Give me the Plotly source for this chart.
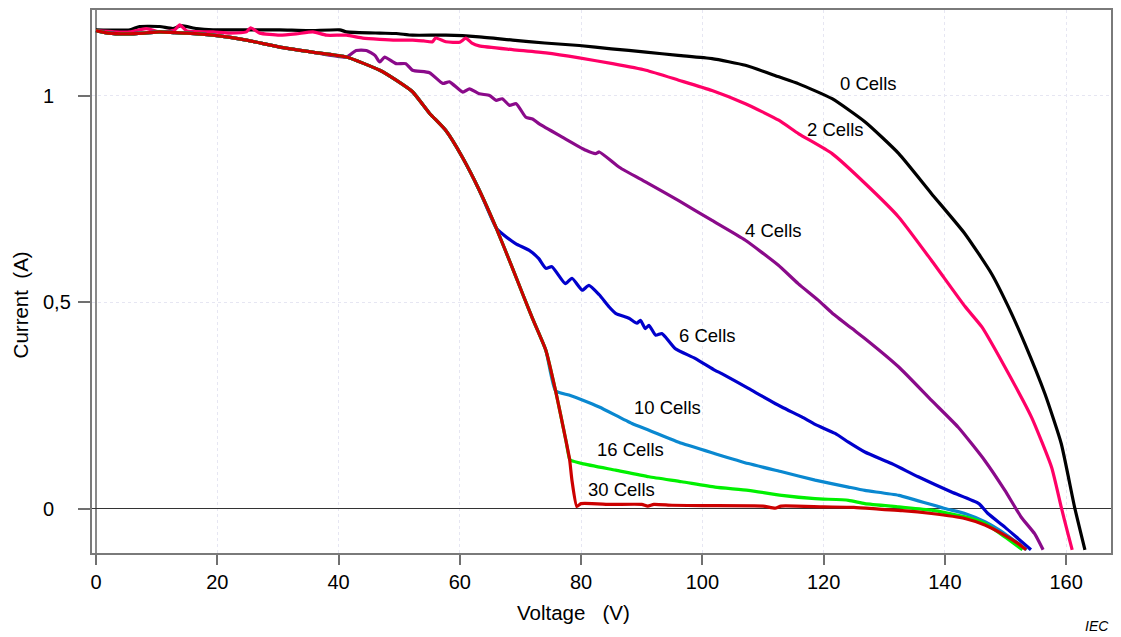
import plotly.graph_objects as go

# ---------------- data (Voltage V, Current A) ----------------
black_v = [0, 5.6, 7.2, 10.5, 12.7, 14.0, 16.6, 19.3, 25.0, 30.3, 35.0, 40.2, 41.3, 46.8, 49.5, 52.2,
           57.7, 63.2, 68.7, 74.0, 79.7, 85.0, 90.7, 96.0, 101.6, 107.1, 112.6, 115.9, 121.4,
           126.9, 132.4, 137.8, 143.3, 147.7, 150.5, 153.2, 156.5, 159.2, 161.4, 163.1]
black_i = [1.160, 1.160, 1.168, 1.168, 1.163, 1.170, 1.163, 1.160, 1.160, 1.160, 1.158, 1.160, 1.155,
           1.152, 1.151, 1.147, 1.147, 1.143, 1.135, 1.128, 1.122, 1.114, 1.106, 1.098, 1.090, 1.074,
           1.046, 1.029, 0.993, 0.936, 0.860, 0.763, 0.666, 0.569, 0.488, 0.399, 0.278, 0.157, 0.003, -0.100]

pink_v = [0, 3.0, 5.6, 8.3, 10.5, 13.0, 13.8, 15.0, 19.3, 22.0, 24.8, 25.5, 27.0, 30.3, 33.0, 35.8,
          38.0, 41.3, 44.0, 46.8, 49.5, 52.2, 54.0, 55.5, 56.0, 57.7, 60.0, 61.0, 62.0, 63.2, 68.7,
          74.2, 79.7, 85.2, 90.7, 96.1, 101.6, 107.1, 112.6, 115.9, 121.4, 126.9, 132.4, 137.8,
          143.3, 146.1, 149.9, 154.3, 157.6, 159.2, 160.3, 161.0]
pink_i = [1.158, 1.155, 1.155, 1.163, 1.155, 1.160, 1.172, 1.157, 1.155, 1.152, 1.155, 1.165, 1.152,
          1.147, 1.150, 1.155, 1.147, 1.147, 1.140, 1.137, 1.135, 1.135, 1.133, 1.131, 1.140, 1.131,
          1.130, 1.140, 1.128, 1.121, 1.112, 1.104, 1.092, 1.078, 1.062, 1.038, 1.013, 0.981, 0.941,
          0.908, 0.860, 0.787, 0.706, 0.601, 0.490, 0.440, 0.343, 0.221, 0.100, 0.003, -0.061, -0.100]

# shared part of the partially shaded curves
base_v = [0, 2.0, 5.0, 8.0, 10.5, 13.0, 15.0, 19.3, 24.8, 30.3, 35.7, 41.3]
base_i = [1.158, 1.152, 1.150, 1.152, 1.155, 1.153, 1.152, 1.147, 1.135, 1.118, 1.106, 1.094]

knee_v = [46.8, 49.5, 52.2, 55.0, 57.7, 60.4, 63.2, 66.0]
knee_i = [1.062, 1.038, 1.010, 0.958, 0.916, 0.852, 0.772, 0.680]

drop_v = [68.7, 70.5, 72.0, 74.2, 75.8]
drop_i = [0.582, 0.515, 0.460, 0.383, 0.285]

drop2_v = [76.7, 77.5, 78.1]
drop2_i = [0.222, 0.165, 0.120]

purple_tail_v = [42.9, 44.6, 46.0, 46.8, 47.6, 49.5, 51.1, 52.2, 55.0, 57.2, 58.3, 60.5, 61.6, 63.2,
                 64.9, 66.0, 67.0, 68.2, 69.3, 70.9, 72.0, 73.1, 76.9, 80.8, 82.4, 83.0, 86.3, 90.7,
                 96.1, 101.6, 107.1, 112.5, 115.8, 119.1, 121.4, 124.7, 126.9, 132.4, 137.8, 142.2,
                 146.6, 149.9, 152.6, 154.8, 156.2]
purple_tail_i = [1.110, 1.110, 1.098, 1.082, 1.094, 1.078, 1.078, 1.062, 1.056, 1.030, 1.034, 1.009,
                 1.017, 1.005, 1.001, 0.989, 0.993, 0.977, 0.981, 0.948, 0.944, 0.932, 0.900, 0.868,
                 0.860, 0.864, 0.827, 0.791, 0.746, 0.698, 0.650, 0.590, 0.545, 0.505, 0.474, 0.436,
                 0.411, 0.343, 0.262, 0.197, 0.116, 0.044, -0.021, -0.061, -0.100]

blue_tail_v = [67.0, 69.2, 71.4, 73.0, 74.2, 75.2, 77.4, 78.5, 80.2, 81.3, 83.0, 84.6, 85.7, 87.9,
               89.2, 89.8, 90.6, 91.2, 92.3, 93.3, 93.9, 95.5, 98.8, 102.1, 103.2, 107.6, 113.1,
               116.4, 118.6, 121.9, 124.1, 126.8, 131.2, 135.6, 141.1, 145.6, 147.1, 149.9, 152.1, 154.2]
blue_tail_i = [0.666, 0.642, 0.626, 0.606, 0.582, 0.586, 0.545, 0.558, 0.529, 0.541, 0.518, 0.489,
               0.473, 0.461, 0.449, 0.456, 0.436, 0.444, 0.420, 0.424, 0.416, 0.388, 0.364, 0.335,
               0.327, 0.291, 0.246, 0.222, 0.204, 0.182, 0.161, 0.137, 0.109, 0.077, 0.040, 0.012,
               -0.012, -0.045, -0.073, -0.100]

cyan_tail_v = [78.0, 80.2, 83.0, 88.4, 91.2, 96.6, 102.1, 107.6, 113.1, 118.6, 124.1, 126.8, 132.4,
               140.0, 143.3, 146.6, 149.9, 153.5]
cyan_tail_i = [0.275, 0.263, 0.246, 0.206, 0.190, 0.158, 0.133, 0.109, 0.089, 0.069, 0.052, 0.044,
               0.032, 0.000, -0.012, -0.032, -0.061, -0.100]

green_tail_v = [78.4, 80.2, 85.7, 91.2, 96.6, 102.1, 107.6, 113.1, 118.6, 124.1, 126.8, 132.4, 137.8,
                143.3, 146.6, 149.9, 152.8]
green_tail_i = [0.116, 0.109, 0.093, 0.077, 0.065, 0.052, 0.044, 0.032, 0.024, 0.020, 0.012, 0.004,
                -0.004, -0.020, -0.036, -0.069, -0.100]

red_tail_v = [78.5, 79.3, 80.0, 85.0, 90.0, 91.0, 92.0, 95.0, 100.0, 110.0, 112.0, 113.0, 120.0,
              125.0, 129.6, 133.0, 137.8, 143.3, 146.6, 149.9, 152.1, 153.4]
red_tail_i = [0.068, 0.005, 0.012, 0.010, 0.010, 0.006, 0.010, 0.008, 0.007, 0.006, 0.001, 0.006,
              0.004, 0.003, -0.002, -0.005, -0.012, -0.024, -0.040, -0.065, -0.085, -0.100]

series_names = ["0 Cells", "2 Cells", "4 Cells", "6 Cells", "10 Cells", "16 Cells", "30 Cells"]
series_colors = ["#000000", "#FF0066", "#8A0A8A", "#0000CC", "#0A88D0", "#00F000", "#CC0000"]

label_v = [127.4, 122.0, 111.8, 100.9, 94.2, 88.2, 86.6]
label_i = [1.030, 0.919, 0.673, 0.419, 0.245, 0.143, 0.046]

y_tick_vals = [0, 0.5, 1]
y_tick_text = ["0", "0,5", "1"]
x_tick_vals = [0, 20, 40, 60, 80, 100, 120, 140, 160]

# ---------------- assemble series ----------------
curves = [
    (black_v, black_i),
    (pink_v, pink_i),
    (base_v + purple_tail_v, base_i + purple_tail_i),
    (base_v + knee_v + blue_tail_v, base_i + knee_i + blue_tail_i),
    (base_v + knee_v + drop_v + cyan_tail_v, base_i + knee_i + drop_i + cyan_tail_i),
    (base_v + knee_v + drop_v + drop2_v + green_tail_v, base_i + knee_i + drop_i + drop2_i + green_tail_i),
    (base_v + knee_v + drop_v + drop2_v + red_tail_v, base_i + knee_i + drop_i + drop2_i + red_tail_i),
]

FONT = "Liberation Sans, Arial, sans-serif"
fig = go.Figure()
for (v, i), name, col in zip(curves, series_names, series_colors):
    fig.add_trace(go.Scatter(x=v, y=i, mode="lines", name=name,
                             line=dict(color=col, width=3.2, shape="spline", smoothing=0.5),
                             showlegend=False))

annotations = []
for name, lv, li in zip(series_names, label_v, label_i):
    annotations.append(dict(x=lv, y=li, xref="x", yref="y", text=name, showarrow=False,
                            font=dict(family=FONT, size=18.5, color="#000000")))
for tv, tt in zip(y_tick_vals, y_tick_text):
    annotations.append(dict(x=0, y=tv, xref="paper", yref="y", text=tt, showarrow=False,
                            xanchor="left", yanchor="middle", xshift=-51,
                            font=dict(family=FONT, size=20, color="#000000")))
annotations.append(dict(x=0, y=0.456, xref="paper", yref="paper", text="Current\u00a0\u00a0(A)",
                        showarrow=False, textangle=-90, xanchor="center", yanchor="middle",
                        xshift=-72, font=dict(family=FONT, size=20.5, color="#000000")))
annotations.append(dict(x=0.473, y=0, xref="paper", yref="paper", text="Voltage\u00a0\u00a0\u00a0(V)",
                        showarrow=False, xanchor="center", yanchor="middle", yshift=-59,
                        font=dict(family=FONT, size=20.5, color="#000000")))
annotations.append(dict(x=1, y=0, xref="paper", yref="paper", text="<i>IEC</i>",
                        showarrow=False, xanchor="right", yanchor="middle", xshift=0, yshift=-73,
                        font=dict(family=FONT, size=14, color="#000000")))

fig.update_layout(
    width=1121, height=637,
    margin=dict(l=92, r=8, t=10, b=84),
    paper_bgcolor="white", plot_bgcolor="white",
    font=dict(family=FONT, color="#000000"),
    annotations=annotations,
    xaxis=dict(range=[-0.66, 167.4], tickvals=x_tick_vals, ticks="outside", ticklen=10,
               tickcolor="#707070", tickwidth=1.5, tickfont=dict(size=20, family=FONT),
               showgrid=True, gridcolor="#e6e6f2", griddash="dot", gridwidth=1,
               zeroline=True, zerolinecolor="#8a8a8a", zerolinewidth=1.5,
               showline=True, mirror=True, linecolor="#7a7a7a", linewidth=1.5),
    yaxis=dict(range=[-0.1077, 1.208], tickvals=y_tick_vals, showticklabels=False,
               ticks="outside", ticklen=12, tickcolor="#707070", tickwidth=1.5,
               showgrid=True, gridcolor="#e6e6f2", griddash="dot", gridwidth=1,
               zeroline=True, zerolinecolor="#333333", zerolinewidth=1,
               showline=True, mirror=True, linecolor="#7a7a7a", linewidth=1.5),
)

fig.write_html("out.html", config={"displayModeBar": False},
               post_script="document.body.style.margin='0';document.body.style.padding='0';")
